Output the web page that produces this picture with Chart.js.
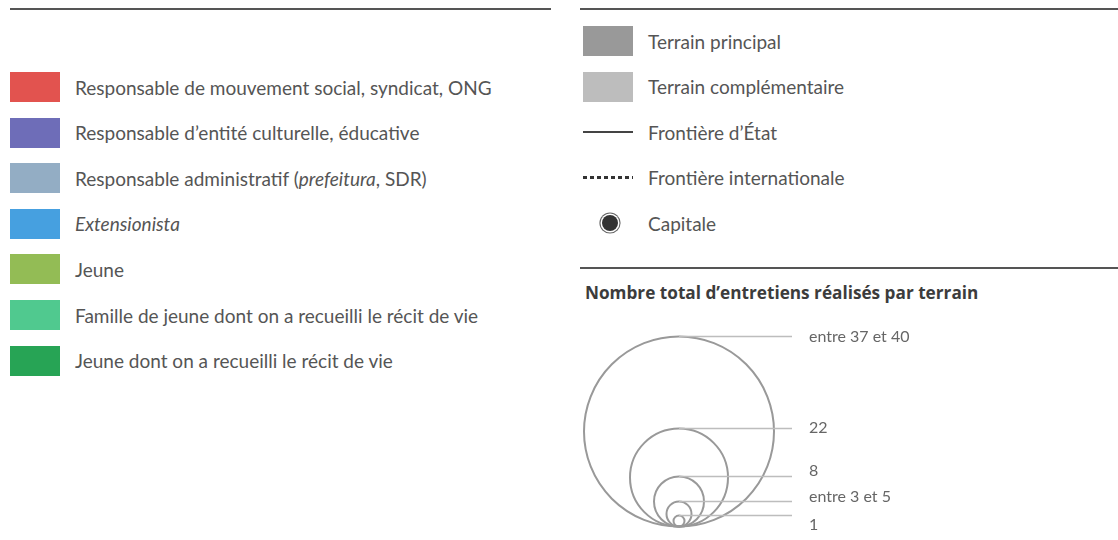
<!DOCTYPE html>
<html>
<head>
<meta charset="utf-8">
<script src="https://cdn.jsdelivr.net/npm/chart.js@4"></script>
<style>
  body { margin: 0; background: #fff; font-family: "Lato", "Open Sans", sans-serif; color: #555; }
  #page { position: relative; width: 1118px; height: 540px; overflow: hidden; }
  .rule { position: absolute; height: 2px; background: #555; }
  .row { position: absolute; height: 30px; display: flex; align-items: center; font-size: 19px; white-space: nowrap; }
  .key { width: 50px; height: 30px; margin-right: 15px; flex: none; position: relative; }
  .title { position: absolute; left: 585px; top: 281px; font-family: "Open Sans", sans-serif; font-size: 17.2px; font-weight: bold; color: #3c3c3c; white-space: nowrap; }
  #bubbleWrap { position: absolute; left: 570px; top: 320px; width: 380px; height: 215px; }
</style>
</head>
<body>
<div id="page">
  <div class="rule" style="left:10px; top:8px; width:541px"></div>
  <div class="rule" style="left:580px; top:8px; width:538px"></div>
  <div class="rule" style="left:580px; top:267px; width:538px"></div>
  <div id="leftLegend"></div>
  <div id="rightLegend"></div>
  <div class="title">Nombre total d’entretiens réalisés par terrain</div>
  <div id="bubbleWrap"><canvas id="sizeChart" width="380" height="215"></canvas></div>
</div>
<script>
// interviewee categories (left legend)
const categories = [
  "Responsable de mouvement social, syndicat, ONG",
  "Responsable d’entité culturelle, éducative",
  "Responsable administratif (<i>prefeitura</i>, SDR)",
  "<i>Extensionista</i>",
  "Jeune",
  "Famille de jeune dont on a recueilli le récit de vie",
  "Jeune dont on a recueilli le récit de vie"
];
const categoryColors = ["#e2534f", "#6e6db8", "#93adc4", "#46a0e0", "#93bc55", "#50c98f", "#27a455"];

// map symbols (right legend)
const mapItems = ["Terrain principal", "Terrain complémentaire", "Frontière d’État", "Frontière internationale", "Capitale"];
const mapKinds = ["fill", "fill", "line", "dots", "capital"];
const mapColors = ["#999999", "#bdbdbd", "#444444", "#333333", "#333333"];

// interviews per field, circle radius
const sizeLabels = ["entre 37 et 40", "22", "8", "entre 3 et 5", "1"];
const sizeRadius = [95, 49, 25, 12.5, 5.5];
const labelShift = [0, -1, -6, -5, 9];

const left = document.getElementById("leftLegend");
categories.forEach((c, i) => {
  const row = document.createElement("div");
  row.className = "row";
  row.style.left = "10px";
  row.style.top = (72 + i * 45.6) + "px";
  row.innerHTML = `<div class="key" style="background:${categoryColors[i]}"></div><span>${c}</span>`;
  left.appendChild(row);
});

const right = document.getElementById("rightLegend");
mapItems.forEach((m, i) => {
  const row = document.createElement("div");
  row.className = "row";
  row.style.left = "583px";
  row.style.top = (26 + i * 45.6) + "px";
  let key = "";
  if (mapKinds[i] === "fill") {
    key = `<div class="key" style="background:${mapColors[i]}"></div>`;
  } else if (mapKinds[i] === "line") {
    key = `<div class="key"><div style="position:absolute;left:0;top:14px;width:50px;height:1.5px;background:${mapColors[i]}"></div></div>`;
  } else if (mapKinds[i] === "dots") {
    key = `<div class="key"><div style="position:absolute;left:0;top:13px;width:50px;height:3px;background:repeating-linear-gradient(90deg, ${mapColors[i]} 0 4px, transparent 4px 7px)"></div></div>`;
  } else {
    key = `<div class="key"><div style="position:absolute;left:19px;top:7px;width:16px;height:16px;border-radius:50%;background:${mapColors[i]};box-shadow:0 0 0 1.5px #fff,0 0 0 2.6px #666"></div></div>`;
  }
  row.innerHTML = key + `<span>${m}</span>`;
  right.appendChild(row);
});

// nested proportional circles, all touching at the bottom
const leaderEnd = 113;
const circleData = sizeRadius.map(r => ({ x: 0, y: r, r: r }));
const leaderSets = sizeRadius.map(r => ({
  type: "line",
  data: [{ x: 0, y: 2 * r }, { x: leaderEnd, y: 2 * r }],
  borderColor: "#bdbdbd",
  borderWidth: 1.6,
  pointRadius: 0,
  clip: false
}));

const labelPlugin = {
  id: "sizeLabels",
  afterDatasetsDraw(c) {
    const ctx = c.ctx;
    const xs = c.scales.x, ys = c.scales.y;
    ctx.save();
    ctx.font = "16px Lato, sans-serif";
    ctx.fillStyle = "#666";
    ctx.textBaseline = "middle";
    sizeLabels.forEach((lab, i) => {
      ctx.fillText(lab, xs.getPixelForValue(leaderEnd) + 17, ys.getPixelForValue(2 * sizeRadius[i]) + labelShift[i]);
    });
    ctx.restore();
  }
};

new Chart(document.getElementById("sizeChart"), {
  type: "bubble",
  data: {
    datasets: [
      ...leaderSets,
      {
        data: circleData,
        backgroundColor: "rgba(0,0,0,0)",
        borderColor: "#999",
        borderWidth: 2,
        clip: false
      }
    ]
  },
  options: {
    responsive: false,
    animation: false,
    events: [],
    layout: { padding: 0, autoPadding: false },
    plugins: { legend: { display: false }, tooltip: { enabled: false } },
    scales: {
      x: { type: "linear", min: -109, max: 271, display: false },
      y: { type: "linear", min: -8.5, max: 206.5, display: false }
    }
  },
  plugins: [labelPlugin]
});
</script>
</body>
</html>
